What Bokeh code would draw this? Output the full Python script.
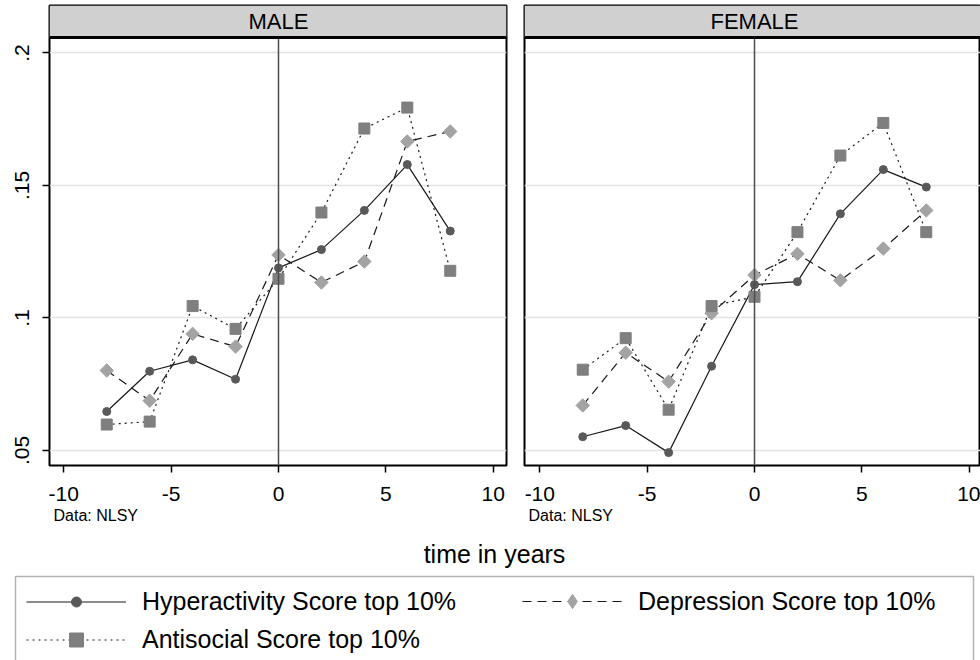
import math
from bokeh.plotting import figure
from bokeh.models import (Range1d, FixedTicker, BoxAnnotation, Span, Label, Title,
                          Legend, LegendItem)
from bokeh.layouts import row, column
from bokeh.embed import file_html
from bokeh.resources import INLINE

# ---------------- data ----------------
years = [-8, -6, -4, -2, 0, 2, 4, 6, 8]

male_hyper = [0.0647, 0.0799, 0.0842, 0.0769, 0.1189, 0.1258, 0.1406, 0.1579, 0.1328]
male_depr = [0.0802, 0.0688, 0.0940, 0.0892, 0.1238, 0.1134, 0.1213, 0.1666, 0.1704]
male_anti = [0.0598, 0.0609, 0.1045, 0.0959, 0.1148, 0.1398, 0.1715, 0.1794, 0.1178]

female_hyper = [0.0552, 0.0594, 0.0492, 0.0818, 0.1126, 0.1137, 0.1393, 0.1560, 0.1494]
female_depr = [0.0670, 0.0869, 0.0760, 0.1018, 0.1162, 0.1242, 0.1142, 0.1262, 0.1406]
female_anti = [0.0805, 0.0924, 0.0654, 0.1045, 0.1080, 0.1324, 0.1613, 0.1736, 0.1324]

panel_titles = ["MALE", "FEMALE"]
series_names = ["Hyperactivity Score top 10%", "Depression Score top 10%", "Antisocial Score top 10%"]

x_ticks = [-10, -5, 0, 5, 10]
x_tick_labels = ["-10", "-5", "0", "5", "10"]
y_ticks = [0.05, 0.1, 0.15, 0.2]
y_tick_labels = [".05", ".1", ".15", ".2"]

x_title = "time in years"
note = "Data: NLSY"

# ---------------- style ----------------
FONT = "Liberation Sans"
LINE = "#1a1a1a"
C_HYPER = "#595959"
C_DEPR = "#a3a3a3"
C_ANTI = "#7f7f7f"
DASH_DEPR = "9 6"
DASH_ANTI = "2 4"

Y0 = 0.04434
Y1 = 0.21792
STRIP_Y = 0.20585
FIG_H = 538
NAN = [float("nan")]


def panel(title, hyper, depr, anti, width, xs, xe, bl, br, show_y):
    p = figure(width=width, height=FIG_H, x_range=Range1d(xs, xe), y_range=Range1d(Y0, Y1),
               output_backend="svg", toolbar_location=None,
               min_border_left=bl, min_border_right=br, min_border_top=5, min_border_bottom=73)
    p.background_fill_color = "white"
    p.border_fill_color = "white"
    p.outline_line_color = "black"
    p.outline_line_width = 2

    p.xgrid.visible = False
    p.ygrid.ticker = FixedTicker(ticks=y_ticks)
    p.ygrid.grid_line_color = "#e3e3e3"
    p.ygrid.grid_line_width = 1.5

    xa = p.xaxis[0]
    xa.ticker = FixedTicker(ticks=x_ticks)
    xa.major_label_overrides = dict(zip(x_ticks, x_tick_labels))
    xa.axis_line_color = None
    xa.major_tick_out = 7
    xa.major_tick_in = 0
    xa.major_tick_line_color = "black"
    xa.major_tick_line_width = 1.5
    xa.minor_tick_line_color = None
    xa.major_label_text_font = FONT
    xa.major_label_text_font_size = "21px"
    xa.major_label_text_color = "black"
    xa.major_label_standoff = 14

    ya = p.yaxis[0]
    if show_y:
        ya.ticker = FixedTicker(ticks=y_ticks)
        ya.major_label_overrides = dict(zip(y_ticks, y_tick_labels))
        ya.axis_line_color = None
        ya.major_tick_out = 7
        ya.major_tick_in = 0
        ya.major_tick_line_color = "black"
        ya.major_tick_line_width = 1.5
        ya.minor_tick_line_color = None
        ya.major_label_orientation = "vertical"
        ya.major_label_text_font = FONT
        ya.major_label_text_font_size = "21px"
        ya.major_label_text_color = "black"
        ya.major_label_standoff = 13
    else:
        ya.visible = False

    # reference line at time 0
    p.add_layout(Span(location=0, dimension="height", line_color="#4d4d4d", line_width=1.5))

    # series
    p.line(years, hyper, line_color=LINE, line_width=1.2)
    p.line(years, depr, line_color=LINE, line_width=1.2, line_dash=DASH_DEPR)
    p.line(years, anti, line_color=LINE, line_width=1.2, line_dash=DASH_ANTI)
    p.scatter(years, hyper, marker="circle", size=8, fill_color=C_HYPER, line_color=C_HYPER)
    p.scatter(years, depr, marker="square", angle=math.pi / 4, size=9.5,
              fill_color=C_DEPR, line_color=C_DEPR)
    p.scatter(years, anti, marker="square", size=11, fill_color=C_ANTI, line_color=C_ANTI)

    # strip header
    p.add_layout(BoxAnnotation(bottom=STRIP_Y, top=Y1, left=xs, right=xe,
                               fill_color="#d0d0d0", fill_alpha=1, line_color=None))
    p.add_layout(Span(location=STRIP_Y, dimension="width", line_color="black", line_width=3))
    p.add_layout(Label(x=0, y=(STRIP_Y + Y1) / 2, text=title, text_align="center",
                       text_baseline="middle", text_font=FONT, text_font_size="22px",
                       text_color="black"))

    p.add_layout(Title(text=note, align="left", offset=4, text_font=FONT,
                       text_font_size="16px", text_font_style="normal", text_color="black",
                       standoff=2), "below")
    return p


pm = panel(panel_titles[0], male_hyper, male_depr, male_anti, 508, -10.666, 10.62, 49, 2, True)
pf = panel(panel_titles[1], female_hyper, female_depr, female_anti, 472, -10.713, 10.526, 16, 0, False)

# ---------------- bottom: axis title + legend ----------------
BW = 980
BH = 122
pb = figure(width=BW, height=BH, x_range=Range1d(0, BW), y_range=Range1d(BH, 0),
            x_axis_type=None, y_axis_type=None, output_backend="svg",
            toolbar_location=None, min_border=0)
pb.outline_line_color = None
pb.grid.visible = False

pb.add_layout(Label(x=494, y=15, text=x_title, text_align="center", text_baseline="middle",
                    text_font=FONT, text_font_size="25px", text_color="black"))
pb.add_layout(BoxAnnotation(left=15, right=973, top=38, bottom=300, fill_alpha=0,
                            line_color="black", line_width=1.5))

rh_l = pb.line(x=NAN, y=NAN, line_color=LINE, line_width=1.2)
rh_p = pb.scatter(x=NAN, y=NAN, marker="circle", fill_color=C_HYPER, line_color=C_HYPER)
rd_l = pb.line(x=NAN, y=NAN, line_color=LINE, line_width=1.2, line_dash=DASH_DEPR)
rd_p = pb.scatter(x=NAN, y=NAN, marker="diamond", fill_color=C_DEPR, line_color=C_DEPR)
ra_l = pb.line(x=NAN, y=NAN, line_color=LINE, line_width=1.2, line_dash=DASH_ANTI)
ra_p = pb.scatter(x=NAN, y=NAN, marker="square", fill_color=C_ANTI, line_color=C_ANTI)

common = dict(orientation="vertical", padding=0, spacing=0, margin=0,
              glyph_width=100, label_height=30, label_standoff=16,
              label_text_font=FONT, label_text_font_size="25px", label_text_color="black",
              border_line_color=None, background_fill_alpha=0)

leg_h = Legend(items=[LegendItem(label=series_names[0], renderers=[rh_l, rh_p])],
               location=(26, 44), glyph_height=25, **common)
leg_d = Legend(items=[LegendItem(label=series_names[1], renderers=[rd_l, rd_p])],
               location=(522, 41), glyph_height=36, **common)
leg_a = Legend(items=[LegendItem(label=series_names[2], renderers=[ra_l, ra_p])],
               location=(26, 3.5), glyph_height=35, **common)
pb.add_layout(leg_h)
pb.add_layout(leg_d)
pb.add_layout(leg_a)

layout = column(row(pm, pf), pb)
open("out.html", "w").write(file_html(layout, INLINE))
